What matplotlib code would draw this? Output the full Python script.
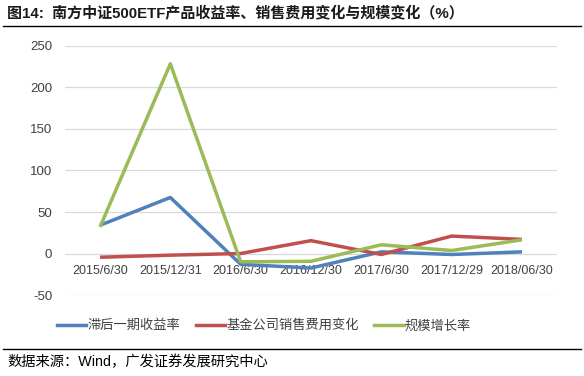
import matplotlib
matplotlib.use("Agg")
import matplotlib.pyplot as plt
from matplotlib.lines import Line2D

FONTS = ["Liberation Sans", "Noto Sans CJK SC", "DejaVu Sans"]
plt.rcParams["font.family"] = FONTS

DATES = ["2015/6/30", "2015/12/31", "2016/6/30", "2016/12/30",
         "2017/6/30", "2017/12/29", "2018/06/30"]
LAGGED_RETURN = [34, 67.5, -13, -17.5, 2, -1.2, 2]
SALES_FEE_CHG = [-4.5, -2, 0, 15.5, -1.2, 21, 17]
SIZE_GROWTH = [32, 228.5, -10, -9.4, 10.5, 3.6, 16.5]
NAMES = ["滞后一期收益率", "基金公司销售费用变化", "规模增长率"]
COLORS = ["#4F81BD", "#C0504D", "#9BBB59"]
YTICKS = [-50, 0, 50, 100, 150, 200, 250]

TITLE = "图14:  南方中证500ETF产品收益率、销售费用变化与规模变化（%）"
SOURCE = "数据来源：Wind，广发证券发展研究中心"


def main() -> None:
    fig = plt.figure(figsize=(5.84, 3.76), dpi=100)
    ax = fig.add_axes([0.111, 0.2154, 0.843, 0.6623])

    xs = list(range(len(DATES)))
    for ys, color, name in zip([LAGGED_RETURN, SALES_FEE_CHG, SIZE_GROWTH], COLORS, NAMES):
        ax.plot(xs, ys, color=color, linewidth=2.5, label=name, solid_capstyle="butt", zorder=3)

    ax.set_xlim(-0.5, len(DATES) - 0.5)
    ax.set_ylim(-50, 250)
    # moving the spine resets the ticks, so do it before styling labels
    ax.spines["bottom"].set_position(("data", 0))
    for s in ax.spines.values():
        s.set_visible(False)
    ax.set_yticks(YTICKS)
    ax.set_yticklabels([str(v) for v in YTICKS])
    ax.set_xticks(xs)
    ax.set_xticklabels(DATES)
    ax.tick_params(axis="both", length=0, labelcolor="#404040")
    ax.tick_params(axis="x", pad=8, labelsize=9)
    ax.tick_params(axis="y", pad=9, labelsize=9.5)
    ax.grid(axis="y", color="#d9d9d9", linewidth=0.9, zorder=0)
    ax.set_axisbelow(True)

    handles = [Line2D([], [], color=c, linewidth=2.5) for c in COLORS]
    fig.legend(handles, NAMES, loc="center", bbox_to_anchor=(0.452, 0.133), ncol=3,
               frameon=False, fontsize=9.5, handlelength=2.2, handletextpad=0.1,
               columnspacing=1.2, labelcolor="#404040")

    fig.text(0.012, 0.965, TITLE, fontsize=10.8, fontweight="bold", ha="left", va="center",
             color="#1a1a1a")
    fig.add_artist(Line2D([0.005, 0.995], [0.932, 0.932], color="black", linewidth=1.0,
                          transform=fig.transFigure))
    fig.add_artist(Line2D([0.005, 0.995], [0.072, 0.072], color="black", linewidth=1.0,
                          transform=fig.transFigure))
    fig.text(0.012, 0.037, SOURCE, fontsize=10.3, ha="left", va="center", color="black")

    fig.savefig("out.png", dpi=100)
    plt.close(fig)


if __name__ == "__main__":
    main()
